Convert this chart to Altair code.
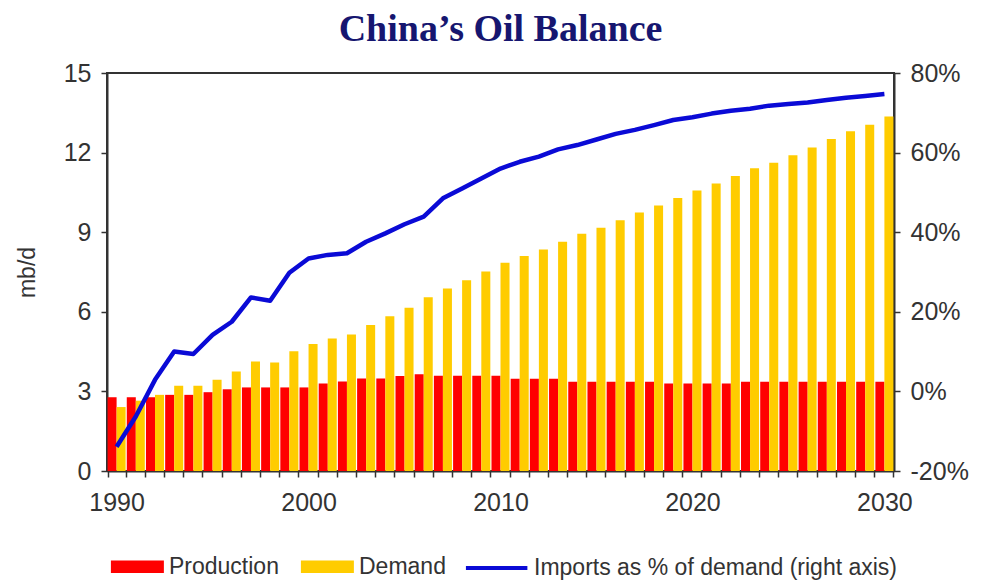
import altair as alt
import pandas as pd

years = list(range(1990, 2031))
production = [2.78, 2.78, 2.78, 2.87, 2.87, 2.97, 3.08, 3.15, 3.15, 3.15,
              3.15, 3.30, 3.37, 3.49, 3.49, 3.58, 3.65, 3.59, 3.59, 3.59,
              3.59, 3.48, 3.48, 3.48, 3.36, 3.36, 3.36, 3.36, 3.36, 3.30,
              3.30, 3.30, 3.30, 3.36, 3.36, 3.36, 3.36, 3.36, 3.36, 3.36,
              3.36]
demand = [2.41, 2.65, 2.87, 3.21, 3.21, 3.44, 3.75, 4.13, 4.09, 4.51,
          4.79, 4.99, 5.14, 5.50, 5.83, 6.15, 6.55, 6.88, 7.19, 7.52,
          7.85, 8.10, 8.35, 8.64, 8.94, 9.17, 9.45, 9.74, 10.01, 10.29,
          10.57, 10.84, 11.12, 11.41, 11.62, 11.90, 12.19, 12.51, 12.80, 13.05,
          13.36]
imports_pct = [-13.9, -6.3, 2.9, 10.0, 9.4, 14.2, 17.5, 23.6, 22.8, 29.8,
               33.4, 34.3, 34.7, 37.6, 39.7, 42.0, 43.9, 48.5, 51.0, 53.5,
               56.0, 57.7, 59.0, 60.8, 61.9, 63.3, 64.7, 65.7, 66.9, 68.2,
               68.9, 69.8, 70.5, 71.0, 71.8, 72.2, 72.6, 73.2, 73.8, 74.2,
               74.7]
bar_series = ["Production", "Demand"]
bar_colors = ["#ff0000", "#ffcc00"]
line_series = "Imports as % of demand (right axis)"
left_ticks = [0, 3, 6, 9, 12, 15]
right_ticks = [-20, 0, 20, 40, 60, 80]

rows = []
for yr, p, d in zip(years, production, demand):
    rows.append({"Year": yr, "Series": "Production", "mbd": p})
    rows.append({"Year": yr, "Series": "Demand", "mbd": d})
bars_df = pd.DataFrame(rows)
line_df = pd.DataFrame({"Year": years, "Pct": imports_pct, "Series": line_series})

FONT = "Liberation Sans"
TXT = "#333333"

x_scale = alt.Scale(paddingInner=0.06, paddingOuter=0.03)
x_axis = alt.Axis(
    title=None, labelAngle=0, labelOverlap=False, tickBand="extent",
    labelExpr="datum.value % 10 == 0 ? datum.label : ''",
    labelFontSize=25, labelPadding=13, tickSize=6,
)

bars = alt.Chart(bars_df).mark_bar().encode(
    x=alt.X("Year:O", scale=x_scale, axis=x_axis),
    xOffset=alt.XOffset("Series:N", sort=bar_series, scale=alt.Scale(paddingInner=0.0)),
    y=alt.Y("mbd:Q", scale=alt.Scale(domain=[0, 15], nice=False),
            axis=alt.Axis(values=left_ticks, title="mb/d", orient="left",
                          titleFontSize=23, titleFontWeight="normal", titlePadding=24,
                          labelFontSize=25, labelPadding=10, tickSize=6)),
    fill=alt.Fill("Series:N", sort=bar_series,
                  scale=alt.Scale(domain=bar_series, range=bar_colors),
                  legend=alt.Legend(
                      title=None, orient="none", legendX=3, legendY=482,
                      direction="horizontal", padding=0,
                      symbolType="M-1,-0.6H4V0.6H-1Z", symbolSize=449,
                      symbolStrokeWidth=0, labelOffset=36, columnPadding=21,
                      labelLimit=0,
                      labelFontSize=23, labelFont=FONT, labelColor=TXT)),
)

line = alt.Chart(line_df).mark_line(strokeWidth=4.5, strokeJoin="round").encode(
    x=alt.X("Year:O", scale=x_scale, axis=x_axis),
    y=alt.Y("Pct:Q", scale=alt.Scale(domain=[-20, 80], nice=False),
            axis=alt.Axis(values=right_ticks, title=None, orient="right",
                          labelExpr="datum.value + '%'",
                          labelFontSize=25, labelPadding=10, tickSize=6)),
    stroke=alt.Stroke("Series:N",
                      scale=alt.Scale(domain=[line_series], range=["#0a0ad6"]),
                      legend=alt.Legend(
                          title=None, orient="none", legendX=365, legendY=482,
                          padding=0, labelLimit=0,
                          symbolType="M-1.8,0H4", symbolSize=449,
                          symbolStrokeWidth=4, labelOffset=36,
                          labelFontSize=23, labelFont=FONT, labelColor=TXT)),
)

chart = alt.layer(
    bars, line,
    title=alt.TitleParams("China\u2019s Oil Balance", font="Liberation Serif",
                          fontSize=38, fontWeight="bold", color="#161670",
                          anchor="middle", offset=12),
).resolve_scale(y="independent").properties(
    width=787, height=398,
    autosize=alt.AutoSizeParams(type="none"),
    padding={"left": 99, "top": 65, "right": 84, "bottom": 110},
).configure_view(
    stroke="#333333", strokeWidth=2,
).configure_axis(
    grid=False, domainColor="#333333", domainWidth=2, tickColor="#333333",
    tickWidth=1.5, labelFont=FONT, labelColor=TXT, titleFont=FONT, titleColor=TXT,
)

chart.save("out.html", embed_options={"renderer": "svg", "actions": False})
